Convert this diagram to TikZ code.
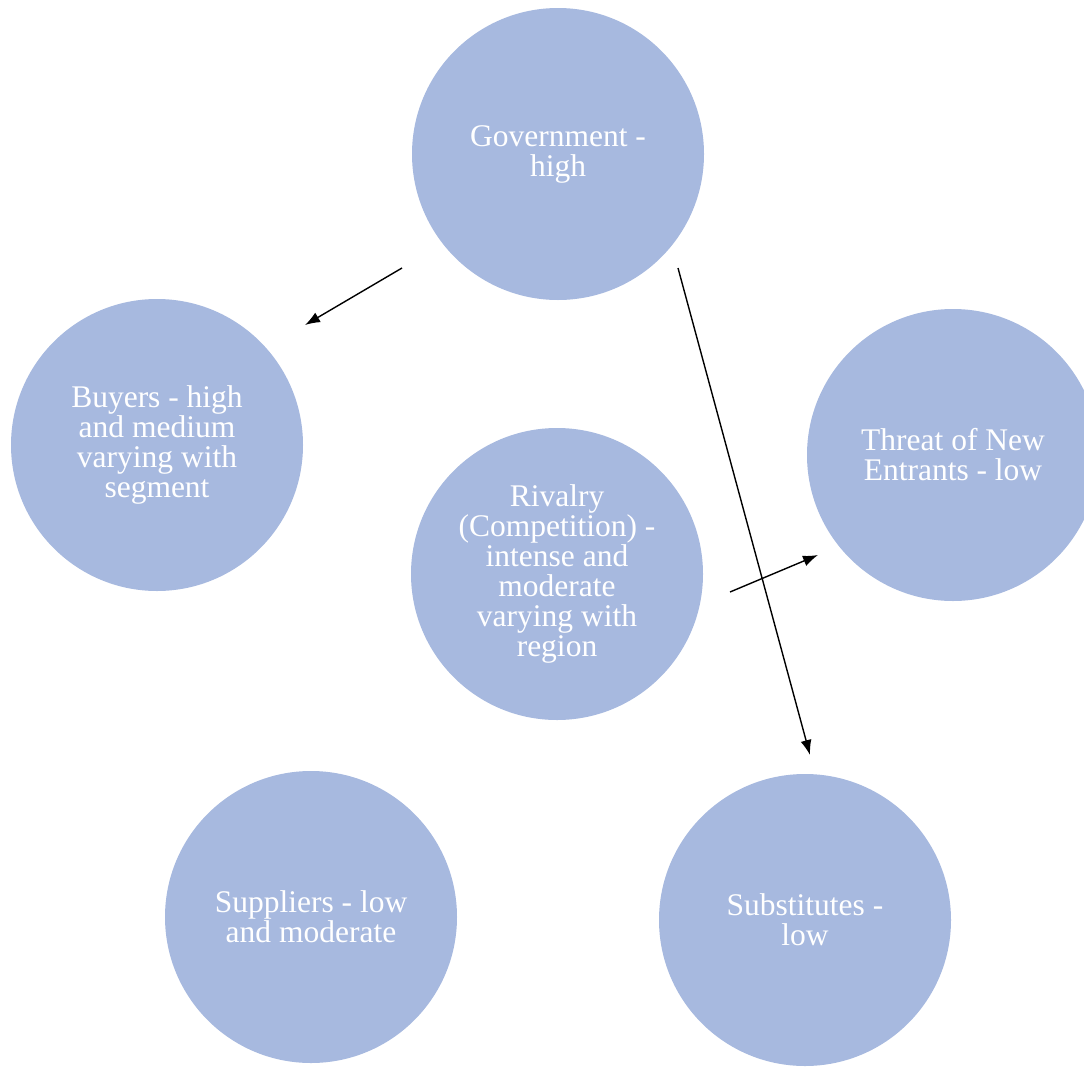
\documentclass[tikz,border=0pt]{standalone}
\usepackage{fontspec}
\setmainfont{Liberation Serif}
\usetikzlibrary{arrows.meta}
\definecolor{forcefill}{RGB}{167,185,223}

\begin{document}
\begin{tikzpicture}[
  x=1pt, y=-1pt,
  force/.style={circle, fill=forcefill, minimum size=292pt, inner sep=0pt,
                align=center, text=white, font=\fontsize{31.5}{30}\selectfont},
  arrow/.style={-{Latex[length=15pt, width=11pt]}, line width=1.4pt}
]
\useasboundingbox (0,0) rectangle (1084,1068);
\clip (0,0) rectangle (1084,1068);

\node[force] (gov) at (558,154) {Government -\\high};
\node[force] (buyers) at (157,445) {Buyers - high\\and medium\\varying with\\segment};
\node[force] (rivalry) at (557,574) {Rivalry\\(Competition) -\\intense and\\moderate\\varying with\\region};
\node[force] (entrants) at (953,455) {Threat of New\\Entrants - low};
\node[force] (suppliers) at (311,917) {Suppliers - low\\and moderate};
\node[force] (substitutes) at (805,920) {Substitutes -\\low};

% loose ends of the arrows
\coordinate (gov-left) at (402,268);
\coordinate (buyers-top) at (305,325);
\coordinate (gov-right) at (678,268);
\coordinate (subst-top) at (810,755);
\coordinate (rivalry-right) at (730,592);
\coordinate (entrants-left) at (818,555);

\draw[arrow] (gov-left) -- (buyers-top);
\draw[arrow] (gov-right) -- (subst-top);
\draw[arrow] (rivalry-right) -- (entrants-left);
\end{tikzpicture}
\end{document}
